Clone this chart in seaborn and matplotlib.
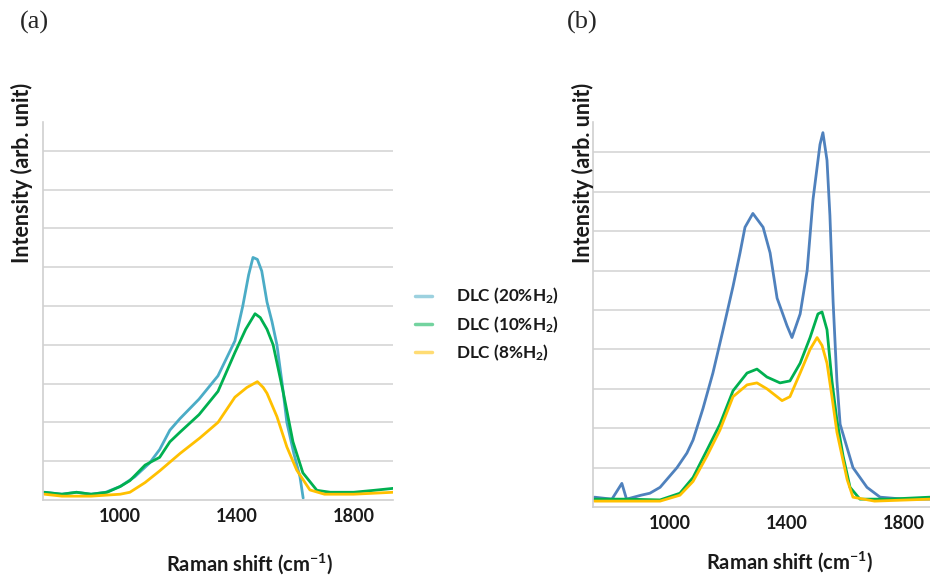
import numpy as np
import matplotlib
matplotlib.use("Agg")
import matplotlib.pyplot as plt
from matplotlib.ticker import FixedLocator
import seaborn as sns
import pandas as pd

sns.set_style("white")
plt.rcParams['font.family'] = ['Lato', 'DejaVu Sans']
plt.rcParams['mathtext.default'] = 'regular'

labels = ["DLC (20%H$_2$)", "DLC (10%H$_2$)", "DLC (8%H$_2$)"]

# panel (a)
a20_x = [740, 800, 850, 900, 950, 1000, 1050, 1100, 1135, 1170, 1205, 1270, 1335, 1393, 1420, 1440,
         1455, 1470, 1485, 1503, 1520, 1537, 1555, 1571, 1595, 1616, 1627]
a20_y = [0.2, 0.15, 0.2, 0.15, 0.2, 0.35, 0.6, 0.95, 1.3, 1.8, 2.1, 2.6, 3.2, 4.1, 5.0, 5.8,
         6.25, 6.2, 5.9, 5.1, 4.6, 4.0, 3.0, 2.0, 1.2, 0.6, 0.05]
a10_x = [740, 800, 850, 900, 955, 1000, 1033, 1085, 1135, 1170, 1205, 1270, 1335, 1393, 1430, 1462,
         1480, 1503, 1524, 1558, 1592, 1626, 1674, 1720, 1800, 1870, 1935]
a10_y = [0.2, 0.15, 0.2, 0.15, 0.2, 0.35, 0.5, 0.9, 1.1, 1.5, 1.75, 2.2, 2.8, 3.8, 4.4, 4.8,
         4.7, 4.4, 4.0, 2.8, 1.5, 0.7, 0.25, 0.2, 0.2, 0.25, 0.3]
a8_x = [740, 800, 900, 1000, 1033, 1085, 1135, 1205, 1273, 1335, 1393, 1434, 1470, 1490, 1503, 1537,
        1571, 1605, 1650, 1700, 1800, 1935]
a8_y = [0.15, 0.1, 0.1, 0.15, 0.2, 0.45, 0.75, 1.2, 1.6, 2.0, 2.65, 2.9, 3.05, 2.9, 2.75, 2.15,
        1.37, 0.77, 0.26, 0.15, 0.15, 0.2]

# panel (b)
b20_x = [740, 800, 834, 850, 900, 930, 965, 1023, 1057, 1078, 1112, 1146, 1181, 1215, 1239, 1256,
         1283, 1318, 1342, 1366, 1400, 1417, 1445, 1469, 1489, 1513, 1523, 1537, 1547, 1558, 1571,
         1582, 1606, 1626, 1674, 1719, 1800, 1890]
b20_y = [0.25, 0.2, 0.6, 0.2, 0.3, 0.35, 0.5, 1.0, 1.37, 1.7, 2.5, 3.4, 4.5, 5.6, 6.45, 7.1,
         7.45, 7.1, 6.45, 5.3, 4.6, 4.3, 4.9, 6.0, 7.8, 9.2, 9.5, 8.8, 7.4, 5.2, 3.2,
         2.1, 1.5, 1.0, 0.5, 0.25, 0.2, 0.2]
b10_x = [740, 850, 965, 1033, 1078, 1126, 1170, 1215, 1263, 1297, 1331, 1376, 1410, 1445, 1479,
         1506, 1520, 1537, 1554, 1571, 1592, 1616, 1650, 1750, 1890]
b10_y = [0.2, 0.2, 0.18, 0.35, 0.75, 1.45, 2.1, 2.95, 3.4, 3.5, 3.3, 3.15, 3.2, 3.65, 4.3,
         4.9, 4.95, 4.5, 3.2, 2.2, 1.3, 0.5, 0.2, 0.2, 0.25]
b8_x = [740, 965, 1033, 1078, 1126, 1170, 1215, 1263, 1297, 1331, 1383, 1410, 1445, 1479, 1503,
        1520, 1537, 1554, 1571, 1606, 1626, 1700, 1890]
b8_y = [0.15, 0.15, 0.3, 0.65, 1.3, 1.95, 2.8, 3.1, 3.15, 3.0, 2.7, 2.8, 3.4, 4.0, 4.3,
        4.1, 3.65, 2.8, 1.9, 0.7, 0.25, 0.15, 0.2]

x_ticks = [1000, 1400, 1800]


def make_df(xs, ys):
    rows = []
    for lab, x, y in zip(labels, xs, ys):
        rows.append(pd.DataFrame({"shift": x, "intensity": y, "sample": lab}))
    return pd.concat(rows, ignore_index=True)


df_a = make_df([a20_x, a10_x, a8_x], [a20_y, a10_y, a8_y])
df_b = make_df([b20_x, b10_x, b8_x], [b20_y, b10_y, b8_y])

fig = plt.figure(figsize=(9.3, 5.78), dpi=100)
ax_a = fig.add_axes([0.0462, 0.1349, 0.3764, 0.654])
ax_b = fig.add_axes([0.6376, 0.1228, 0.3624, 0.6661])

pal_a = dict(zip(labels, ["#4BACC6", "#00B050", "#FFC000"]))
pal_b = dict(zip(labels, ["#4F81BD", "#00B050", "#FFC000"]))

sns.lineplot(data=df_a, x="shift", y="intensity", hue="sample", palette=pal_a, sort=False,
             estimator=None, lw=2, ax=ax_a, legend=False)
sns.lineplot(data=df_b, x="shift", y="intensity", hue="sample", palette=pal_b, sort=False,
             estimator=None, lw=2, ax=ax_b, legend=False)

for ax, xmax, ytop in [(ax_a, 1935, 9.74), (ax_b, 1890, 9.77)]:
    ax.set_xlim(735, xmax)
    ax.set_ylim(0, ytop)
    ax.set_xticks(x_ticks)
    ax.xaxis.set_minor_locator(FixedLocator(np.arange(735, xmax + 1, 200)))
    ax.set_yticks(np.arange(1, 10))
    ax.set_yticklabels([])
    ax.grid(axis="y", color="#D9D9D9", lw=1.3)
    ax.set_axisbelow(True)
    ax.tick_params(axis="x", which="major", length=0, pad=6, labelsize=13, labelcolor="#1a1a1a")
    ax.tick_params(axis="x", which="minor", length=6, color="#BFBFBF", width=1)
    ax.tick_params(axis="y", length=3, color="#D9D9D9", width=1.3)
    for t in ax.get_xticklabels():
        t.set_fontweight("bold")
    sns.despine(ax=ax)
    for s in ["left", "bottom"]:
        ax.spines[s].set_color("#D0D0D0")
        ax.spines[s].set_linewidth(1.2)
    ax.set_xlabel("")
    ax.set_ylabel("")

lab_kw = dict(fontweight="bold", color="#1a1a1a", ha="center", va="center")
fig.text(22 / 930, 1 - 173 / 578, "Intensity (arb. unit)", rotation=90, fontsize=15.5, **lab_kw)
fig.text(583 / 930, 1 - 173 / 578, "Intensity (arb. unit)", rotation=90, fontsize=15.5, **lab_kw)
fig.text(250 / 930, 1 - 564 / 578, "Raman shift (cm$^{-1}$)", fontsize=14.5, **lab_kw)
fig.text(790 / 930, 1 - 562 / 578, "Raman shift (cm$^{-1}$)", fontsize=14.5, **lab_kw)

fig.text(20 / 930, 1 - 22 / 578, "(a)", family="Liberation Serif", fontsize=19, va="center")
fig.text(567 / 930, 1 - 22 / 578, "(b)", family="Liberation Serif", fontsize=19, va="center")

handles = [plt.Line2D([], [], color=c, lw=2.5, alpha=0.55) for c in ["#4BACC6", "#00B050", "#FFC000"]]
leg = fig.legend(handles, labels, loc="upper left", bbox_to_anchor=(415 / 930, 1 - 286 / 578),
                 frameon=False, handlelength=1.0, handletextpad=1.4, labelspacing=0.45,
                 borderpad=0, borderaxespad=0, prop={"size": 12.3, "weight": "bold"})
for t in leg.get_texts():
    t.set_color("#1a1a1a")

fig.savefig("out.png", dpi=100)
